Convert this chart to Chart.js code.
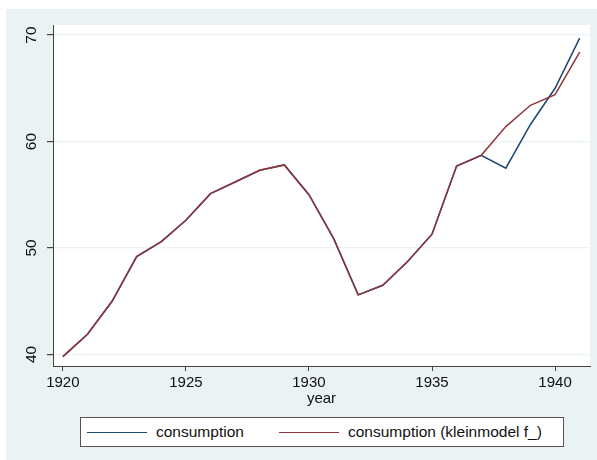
<!DOCTYPE html>
<html lang="en">
<head>
  <meta charset="UTF-8" />
  <title>consumption vs forecast</title>
  <script src="https://cdn.jsdelivr.net/npm/chart.js"></script>
  <style>
    body {
      margin: 0;
      background: #ffffff;
      font-family: "Liberation Sans", Arial, sans-serif;
    }
    #wrap {
      position: relative;
      width: 597px;
      height: 460px;
    }
    #legend {
      position: absolute;
      left: 80px;
      top: 417px;
      width: 482px;
      height: 28px;
      background: #fff;
      border: 1px solid #555;
      font-size: 15.5px;
      color: #111;
    }
    .item {
      position: absolute;
      top: 0;
      height: 28px;
      line-height: 28px;
      white-space: nowrap;
    }
    .item span.swatch {
      display: inline-block;
      width: 60px;
      height: 0;
      border-top: 1.5px solid;
      vertical-align: middle;
      margin-right: 9px;
    }
  </style>
</head>
<body>
  <div id="wrap">
    <canvas id="chart" width="597" height="460"></canvas>
    <div id="legend">
      <div class="item" style="left:6px"><span class="swatch" style="border-color:#1A476F"></span>consumption</div>
      <div class="item" style="left:198px"><span class="swatch" style="border-color:#90353B"></span>consumption (kleinmodel f_)</div>
    </div>
  </div>

  <script>
    const years = [1920, 1921, 1922, 1923, 1924, 1925, 1926, 1927, 1928, 1929, 1930,
                   1931, 1932, 1933, 1934, 1935, 1936, 1937, 1938, 1939, 1940, 1941];
    const consumption = [39.8, 41.9, 45.0, 49.2, 50.6, 52.6, 55.1, 56.2, 57.3, 57.8, 55.0,
                         50.9, 45.6, 46.5, 48.7, 51.3, 57.7, 58.7, 57.5, 61.6, 65.0, 69.7];
    const forecast = [39.8, 41.9, 45.0, 49.2, 50.6, 52.6, 55.1, 56.2, 57.3, 57.8, 55.0,
                      50.9, 45.6, 46.5, 48.7, 51.3, 57.7, 58.7, 61.4, 63.4, 64.4, 68.4];
    const xTicks = [1920, 1925, 1930, 1935, 1940];
    const yTicks = [40, 50, 60, 70];

    const toPoints = arr => arr.map((v, i) => ({ x: years[i], y: v }));

    // backgrounds (graph region + plot region) and rotated y labels
    const stataLook = {
      id: 'stataLook',
      beforeDraw(chart) {
        const c = chart.ctx, a = chart.chartArea;
        c.save();
        c.fillStyle = '#ffffff';
        c.fillRect(0, 0, chart.width, chart.height);
        c.fillStyle = '#EAF2F3';
        c.fillRect(6, 9, chart.width - 6, chart.height - 9);
        c.fillStyle = '#ffffff';
        c.fillRect(a.left, a.top, a.right - a.left, a.bottom - a.top);
        c.restore();
      },
      afterDraw(chart) {
        const c = chart.ctx, y = chart.scales.y;
        c.save();
        c.fillStyle = '#111';
        c.font = '15.5px "Liberation Sans", Arial, sans-serif';
        c.textAlign = 'center';
        c.textBaseline = 'middle';
        y.ticks.forEach(t => {
          const py = y.getPixelForValue(t.value);
          c.save();
          c.translate(32, py);
          c.rotate(-Math.PI / 2);
          c.fillText(String(t.value), 0, 0);
          c.restore();
        });
        c.restore();
      }
    };

    new Chart(document.getElementById('chart'), {
      type: 'line',
      data: {
        datasets: [
          {
            label: 'consumption',
            data: toPoints(consumption),
            borderColor: '#1A476F',
            borderWidth: 1.5,
            pointRadius: 0,
            tension: 0,
            order: 1
          },
          {
            label: 'consumption (kleinmodel f_)',
            data: toPoints(forecast),
            borderColor: '#90353B',
            borderWidth: 1.5,
            pointRadius: 0,
            tension: 0,
            order: 0
          }
        ]
      },
      options: {
        responsive: false,
        animation: false,
        layout: { padding: { left: 0, top: 25, right: 7, bottom: 0 } },
        plugins: {
          legend: { display: false },
          tooltip: { enabled: false }
        },
        scales: {
          x: {
            type: 'linear',
            min: 1919.6,
            max: 1941.42,
            afterBuildTicks: s => { s.ticks = xTicks.map(v => ({ value: v })); },
            afterFit: s => { s.height = 94; },
            border: { display: true, color: '#444', width: 1 },
            grid: { drawOnChartArea: false, drawTicks: true, tickLength: 5, tickColor: '#444' },
            ticks: {
              color: '#111',
              padding: 3,
              maxRotation: 0,
              font: { size: 15, family: '"Liberation Sans", Arial, sans-serif' },
              callback: v => String(v)
            },
            title: {
              display: true,
              text: 'year',
              color: '#111',
              padding: { top: 0, bottom: 52 },
              font: { size: 15, family: '"Liberation Sans", Arial, sans-serif' }
            }
          },
          y: {
            type: 'linear',
            min: 38.92,
            max: 70.94,
            afterBuildTicks: s => { s.ticks = yTicks.map(v => ({ value: v })); },
            afterFit: s => { s.width = 53; },
            border: { display: true, color: '#444', width: 1 },
            grid: { color: '#EAF2F3', lineWidth: 1.2, drawTicks: true, tickLength: 6, tickColor: '#444' },
            ticks: { display: false }
          }
        }
      },
      plugins: [stataLook]
    });
  </script>
</body>
</html>
